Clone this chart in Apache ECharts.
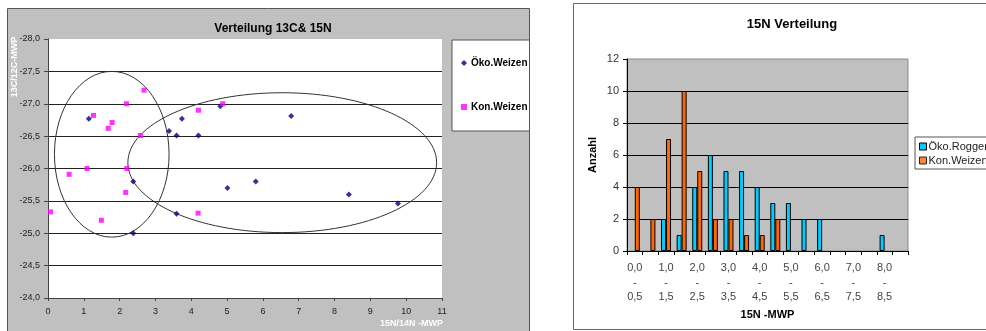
<!DOCTYPE html>
<html>
<head>
<meta charset="utf-8">
<script src="https://cdn.jsdelivr.net/npm/echarts@6/dist/echarts.min.js"></script>
<style>
html, body { margin: 0; padding: 0; background: #fff; }
#root { width: 986px; height: 331px; }
</style>
</head>
<body>
<div id="root"></div>
<script>
// Verteilung 13C & 15N (Streudiagramm)
const oekoWeizen = [
    [1.14, -26.77], [2.38, -25.80], [2.38, -25.00], [3.38, -26.58], [3.59, -26.51],
    [3.74, -26.77], [4.20, -26.51], [4.81, -26.96], [6.79, -26.81], [5.01, -25.70],
    [5.80, -25.80], [8.40, -25.60], [9.77, -25.46], [3.59, -25.30]
];
const konWeizen = [
    [0.07, -25.33], [0.59, -25.91], [1.09, -26.00], [1.27, -26.82], [1.68, -26.62],
    [1.79, -26.71], [1.49, -25.20], [2.19, -27.00], [2.68, -27.21], [2.58, -26.51],
    [2.20, -26.00], [2.17, -25.63], [4.20, -26.90], [4.88, -27.00], [4.19, -25.31]
];
// Ellipsen: [cx, cy, rx, ry] in Achsenwerten
const ellipsen = [
    [1.78, -26.22, 1.60, 1.28],
    [6.54, -26.09, 4.31, 1.08]
];

// 15N Verteilung (Histogramm)
const klassen = [
    '0,0 - 0,5', '0,5 - 1,0', '1,0 - 1,5', '1,5 - 2,0', '2,0 - 2,5', '2,5 - 3,0',
    '3,0 - 3,5', '3,5 - 4,0', '4,0 - 4,5', '4,5 - 5,0', '5,0 - 5,5', '5,5 - 6,0',
    '6,0 - 6,5', '6,5 - 7,0', '7,0 - 7,5', '7,5 - 8,0', '8,0 - 8,5', '8,5 - 9,0'
];
const oekoRoggen = [0, 0, 2, 1, 4, 6, 5, 5, 4, 3, 3, 2, 2, 0, 0, 0, 1, 0];
const konWeizenAnzahl = [4, 2, 7, 10, 5, 2, 2, 1, 1, 2, 0, 0, 0, 0, 0, 0, 0, 0];

const FONT = 'Liberation Sans';
const komma = v => v.toFixed(1).replace('.', ',');
// leere Klassen nicht zeichnen (sonst bleibt ein Rand-Strich stehen)
const ohneNull = arr => arr.map(v => (v === 0 ? '-' : v));

let myChart = echarts.init(document.getElementById('root'));

let option = {
    animation: false,
    textStyle: { fontFamily: FONT },
    title: [
        {
            text: 'Verteilung 13C& 15N',
            left: 268, top: 18, textAlign: 'center',
            textStyle: { fontSize: 12, fontWeight: 'bold', color: '#000', fontFamily: FONT }
        },
        {
            text: '15N Verteilung',
            left: 787, top: 13, textAlign: 'center',
            textStyle: { fontSize: 13, fontWeight: 'bold', color: '#000', fontFamily: FONT }
        }
    ],
    legend: [
        {
            orient: 'vertical',
            left: 452, top: 40,
            width: 77,
            padding: [18, 2, 19, 9],
            itemGap: 34,
            itemWidth: 6, itemHeight: 6,
            backgroundColor: '#fff',
            borderColor: '#555', borderWidth: 1,
            selectedMode: false,
            textStyle: { fontSize: 10, fontWeight: 'bold', color: '#000', fontFamily: FONT, padding: [0, 0, 0, -1] },
            data: [
                { name: 'Öko.Weizen', icon: 'diamond', itemStyle: { color: '#000080' } },
                { name: 'Kon.Weizen', icon: 'rect', itemStyle: { color: '#ff00ff' } }
            ]
        },
        {
            orient: 'vertical',
            left: 915, top: 137,
            padding: [4, 4, 3, 4],
            itemGap: 3,
            itemWidth: 7, itemHeight: 7,
            backgroundColor: '#fff',
            borderColor: '#555', borderWidth: 1,
            selectedMode: false,
            textStyle: { fontSize: 11, color: '#222', fontFamily: FONT, padding: [0, 0, 0, -3] },
            data: [
                { name: 'Öko.Roggen', icon: 'rect', itemStyle: { color: '#00ccff', borderColor: '#000', borderWidth: 1 } },
                { name: 'Kon.Weizen', icon: 'rect', itemStyle: { color: '#ff6600', borderColor: '#000', borderWidth: 1 } }
            ]
        }
    ],
    grid: [
        {
            left: 48, top: 39, width: 394, height: 259,
            show: true, backgroundColor: '#fff', borderWidth: 0
        },
        {
            left: 627, top: 59, width: 281, height: 192,
            show: true, backgroundColor: '#c0c0c0', borderColor: '#8a8a8a', borderWidth: 1
        }
    ],
    xAxis: [
        {
            gridIndex: 0, type: 'value',
            min: 0, max: 11, interval: 1,
            axisLine: { show: true, lineStyle: { color: '#444' } },
            axisTick: { show: true, length: 3, lineStyle: { color: '#444' } },
            axisLabel: { fontSize: 9, color: '#222', margin: 9 },
            splitLine: { show: false }
        },
        {
            gridIndex: 1, type: 'category',
            data: klassen,
            axisLine: { show: true, lineStyle: { color: '#000' } },
            axisTick: { show: true, interval: 0, length: 4, lineStyle: { color: '#000' } },
            axisLabel: {
                interval: 1, fontSize: 11, color: '#444', margin: 10, lineHeight: 14.5,
                formatter: v => v.replace(' - ', '\n-\n')
            },
            name: '15N -MWP',
            nameLocation: 'middle', nameGap: 58,
            nameTextStyle: { fontSize: 11, fontWeight: 'bold', color: '#000', fontFamily: FONT }
        }
    ],
    yAxis: [
        {
            gridIndex: 0, type: 'value',
            inverse: true,
            min: -28, max: -24, interval: 0.5,
            axisLine: { show: true, lineStyle: { color: '#444' } },
            axisTick: { show: true, length: 4, lineStyle: { color: '#444' } },
            axisLabel: { fontSize: 9, color: '#222', margin: 8, formatter: komma },
            splitLine: { show: true, showMinLine: false, showMaxLine: false, lineStyle: { color: '#222', width: 1 } }
        },
        {
            gridIndex: 1, type: 'value',
            min: 0, max: 12, interval: 2,
            axisLine: { show: true, lineStyle: { color: '#000' } },
            axisTick: { show: true, length: 4, lineStyle: { color: '#000' } },
            axisLabel: { fontSize: 11, color: '#333', margin: 8 },
            splitLine: { show: true, showMinLine: false, showMaxLine: false, lineStyle: { color: '#000', width: 1 } },
            name: 'Anzahl',
            nameLocation: 'middle', nameGap: 29,
            nameTextStyle: { fontSize: 11, fontWeight: 'bold', color: '#000', fontFamily: FONT }
        }
    ],
    series: [
        {
            name: 'Öko.Weizen', type: 'scatter',
            xAxisIndex: 0, yAxisIndex: 0,
            symbol: 'diamond', symbolSize: 6,
            itemStyle: { color: '#000080' },
            data: oekoWeizen, z: 5
        },
        {
            name: 'Kon.Weizen', type: 'scatter',
            xAxisIndex: 0, yAxisIndex: 0,
            symbol: 'rect', symbolSize: 5,
            itemStyle: { color: '#ff00ff' },
            data: konWeizen, z: 5
        },
        {
            name: 'Öko.Roggen', type: 'bar',
            xAxisIndex: 1, yAxisIndex: 1,
            barWidth: 5, barGap: '0%',
            itemStyle: { color: '#00ccff', borderColor: '#000', borderWidth: 1 },
            data: ohneNull(oekoRoggen)
        },
        {
            name: 'Kon.Weizen', type: 'bar',
            xAxisIndex: 1, yAxisIndex: 1,
            barWidth: 5, barGap: '0%',
            itemStyle: { color: '#ff6600', borderColor: '#000', borderWidth: 1 },
            data: ohneNull(konWeizenAnzahl)
        }
    ]
};

myChart.setOption(option);

// Hintergründe, Achsentitel und Ellipsen
let graphics = [
    {
        type: 'rect', z: -10, silent: true,
        shape: { x: 7.5, y: 8.5, width: 522, height: 330 },
        style: { fill: '#c0c0c0', stroke: '#555', lineWidth: 1 }
    },
    {
        type: 'rect', z: -10, silent: true,
        shape: { x: 573.5, y: 3.5, width: 420, height: 326 },
        style: { fill: '#fff', stroke: '#666', lineWidth: 1 }
    },
    {
        type: 'text', z: 10, silent: true,
        x: 15, y: 67, rotation: Math.PI / 2,
        style: { text: '13C/12C-MWP', fill: '#fff', font: 'bold 9px ' + FONT, align: 'center', verticalAlign: 'middle' }
    },
    {
        type: 'text', z: 10, silent: true,
        x: 443, y: 324,
        style: { text: '15N/14N -MWP', fill: '#fff', font: 'bold 9px ' + FONT, align: 'right', verticalAlign: 'middle' }
    }
];

ellipsen.forEach(e => {
    let c = myChart.convertToPixel({ gridIndex: 0 }, [e[0], e[1]]);
    let r = myChart.convertToPixel({ gridIndex: 0 }, [e[0] + e[2], e[1] + e[3]]);
    graphics.push({
        type: 'ellipse', z: 4, silent: true,
        shape: { cx: c[0], cy: c[1], rx: Math.abs(r[0] - c[0]), ry: Math.abs(r[1] - c[1]) },
        style: { fill: 'none', stroke: '#333', lineWidth: 1 }
    });
});

myChart.setOption({ graphic: graphics });
</script>
</body>
</html>
